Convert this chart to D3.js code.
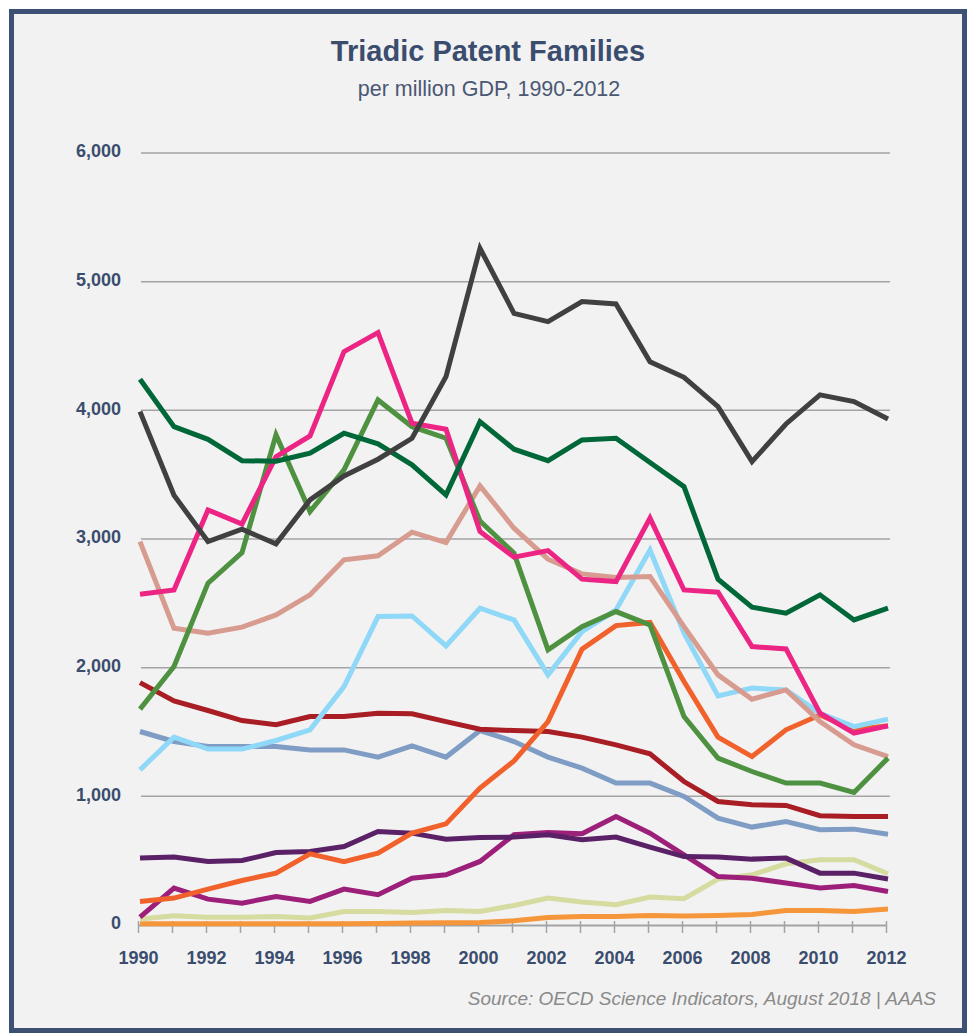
<!DOCTYPE html>
<html>
<head>
<meta charset="utf-8">
<script src="https://cdn.jsdelivr.net/npm/d3@7"></script>
<style>
  html, body { margin: 0; padding: 0; background: #ffffff; }
  svg { display: block; font-family: "Liberation Sans", Arial, sans-serif; }
</style>
</head>
<body>
<div id="chart"></div>
<script>
// DATA ---------------------------------------------------------------------
const years = d3.range(1990, 2013);
const yTicks = [0, 1000, 2000, 3000, 4000, 5000, 6000];
const xLabelYears = d3.range(1990, 2013, 2);

// one array per line (1990..2012)
const darkGray   = [3990, 3340, 2980, 3076, 2962, 3304, 3490, 3620, 3783, 4262, 5259, 4754, 4689, 4845, 4827, 4378, 4257, 4029, 3601, 3894, 4120, 4068, 3933];
const darkGreen  = [4242, 3873, 3775, 3609, 3604, 3667, 3822, 3739, 3576, 3343, 3912, 3698, 3609, 3770, 3783, 3594, 3407, 2688, 2470, 2423, 2566, 2371, 2462];
const pink       = [2571, 2604, 3226, 3117, 3640, 3801, 4456, 4604, 3900, 3853, 3058, 2859, 2910, 2688, 2669, 3162, 2604, 2587, 2164, 2146, 1646, 1491, 1548];
const midGreen   = [1678, 2009, 2657, 2894, 3809, 3213, 3537, 4081, 3873, 3783, 3140, 2890, 2138, 2319, 2436, 2333, 1620, 1297, 1193, 1103, 1103, 1030, 1297];
const salmon     = [2980, 2307, 2268, 2315, 2410, 2566, 2838, 2869, 3053, 2972, 3413, 3084, 2843, 2729, 2700, 2708, 2319, 1944, 1755, 1827, 1581, 1400, 1309];
const lightBlue  = [1206, 1460, 1367, 1367, 1434, 1517, 1853, 2397, 2402, 2169, 2462, 2371, 1944, 2280, 2449, 2915, 2268, 1781, 1841, 1827, 1646, 1542, 1600];
const orangeRed  = [183, 209, 279, 346, 403, 553, 493, 559, 714, 786, 1064, 1275, 1581, 2144, 2327, 2351, 1892, 1460, 1309, 1517, 1633, 1517, 1548];
const darkRed    = [1884, 1742, 1667, 1589, 1556, 1620, 1620, 1646, 1641, 1581, 1522, 1511, 1503, 1460, 1400, 1330, 1115, 960, 934, 929, 849, 843, 843];
const steelBlue  = [1504, 1426, 1387, 1387, 1387, 1361, 1361, 1305, 1392, 1305, 1511, 1426, 1305, 1219, 1103, 1103, 999, 831, 761, 804, 740, 745, 706];
const darkPurple = [520, 528, 494, 501, 563, 571, 610, 727, 714, 667, 680, 683, 701, 662, 683, 605, 532, 528, 512, 520, 403, 403, 357];
const magenta    = [61, 287, 201, 170, 221, 183, 279, 235, 364, 390, 494, 701, 719, 709, 843, 714, 545, 377, 364, 326, 287, 307, 260];
const paleOlive  = [46, 71, 61, 61, 66, 54, 105, 105, 97, 113, 105, 152, 209, 178, 157, 217, 204, 357, 390, 476, 507, 507, 398];
const orange     = [9, 9, 9, 9, 9, 9, 9, 12, 15, 17, 20, 33, 58, 66, 66, 74, 70, 74, 82, 113, 113, 105, 124];

// drawing order, bottom first
const series = [
  {values: orange,     color: '#f6963b'},
  {values: paleOlive,  color: '#d6dba0'},
  {values: magenta,    color: '#9c2079'},
  {values: darkPurple, color: '#5a2167'},
  {values: steelBlue,  color: '#7f9cc4'},
  {values: darkRed,    color: '#a91d24'},
  {values: orangeRed,  color: '#f1612b'},
  {values: lightBlue,  color: '#8fd8f7'},
  {values: salmon,     color: '#d79b8f'},
  {values: midGreen,   color: '#4e9140'},
  {values: pink,       color: '#ec2585'},
  {values: darkGreen,  color: '#006838'},
  {values: darkGray,   color: '#404041'}
];

// CHART INIT ---------------------------------------------------------------
const W = 971, H = 1035;
const navy = '#3b4d6e';

const svg = d3.select('#chart')
  .append('svg')
  .attr('width', W)
  .attr('height', H);

// frame
svg.append('rect')
  .attr('x', 11.5).attr('y', 11.5)
  .attr('width', 953).attr('height', 1019)
  .attr('fill', '#f2f2f2')
  .attr('stroke', '#3e5073')
  .attr('stroke-width', 5);

// scales
const xScale = d3.scaleLinear()
  .domain([1990, 2012])
  .range([140, 888]);

const yScale = d3.scaleLinear()
  .domain([0, 6000])
  .range([925, 153]);

// gridlines
svg.append('g')
  .selectAll('line')
  .data(yTicks.filter(d => d > 0))
  .join('line')
  .attr('x1', 141).attr('x2', 890)
  .attr('y1', d => yScale(d)).attr('y2', d => yScale(d))
  .attr('stroke', '#a3a3a3')
  .attr('stroke-width', 1.5);

// y axis labels
const yAxis = d3.axisLeft(yScale)
  .tickValues(yTicks)
  .tickFormat(d3.format(','))
  .tickSize(0)
  .tickPadding(0);

svg.append('g')
  .attr('class', 'axis y-axis')
  .attr('transform', 'translate(121,-2)')
  .call(yAxis)
  .call(g => g.select('.domain').remove())
  .selectAll('text')
  .attr('fill', navy)
  .attr('font-size', 18)
  .attr('font-weight', 'bold')
  .attr('font-family', '"Liberation Sans", Arial, sans-serif');

// x axis
const xAxis = d3.axisBottom(xScale)
  .tickValues(years)
  .tickFormat(d => xLabelYears.includes(d) ? d : '')
  .tickSizeInner(8)
  .tickSizeOuter(0)
  .tickPadding(18);

const xg = svg.append('g')
  .attr('class', 'axis x-axis')
  .attr('transform', 'translate(-2,' + yScale(0) + ')')
  .call(xAxis);

xg.select('.domain')
  .attr('stroke', '#a3a3a3')
  .attr('stroke-width', 2);

xg.selectAll('.tick line')
  .attr('stroke', '#a3a3a3')
  .attr('stroke-width', 1.5)
  .attr('y1', -4);

xg.selectAll('text')
  .attr('fill', navy)
  .attr('font-size', 18)
  .attr('font-weight', 'bold')
  .attr('font-family', '"Liberation Sans", Arial, sans-serif');

// lines
const line = d3.line()
  .x((d, i) => xScale(years[i]))
  .y(d => yScale(d));

svg.append('g')
  .selectAll('path')
  .data(series)
  .join('path')
  .attr('fill', 'none')
  .attr('stroke', d => d.color)
  .attr('stroke-width', 5)
  .attr('stroke-linejoin', 'miter')
  .attr('d', d => line(d.values));

// titles
svg.append('text')
  .attr('x', 488).attr('y', 61)
  .attr('text-anchor', 'middle')
  .attr('fill', navy)
  .attr('font-size', 29)
  .attr('font-weight', 'bold')
  .text('Triadic Patent Families');

svg.append('text')
  .attr('x', 489).attr('y', 96)
  .attr('text-anchor', 'middle')
  .attr('fill', '#4a5874')
  .attr('font-size', 21.5)
  .text('per million GDP, 1990-2012');

// source
svg.append('text')
  .attr('x', 936).attr('y', 1005)
  .attr('text-anchor', 'end')
  .attr('fill', '#8a8a8a')
  .attr('font-size', 19)
  .attr('font-style', 'italic')
  .text('Source: OECD Science Indicators, August 2018 | AAAS');
</script>
</body>
</html>
